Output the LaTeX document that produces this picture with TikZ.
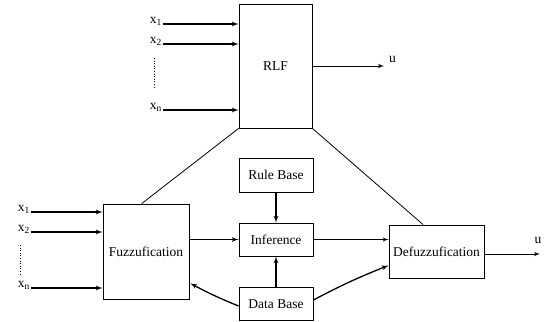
\documentclass[tikz,border=0pt]{standalone}
\usepackage{fontspec}
\setmainfont{Liberation Serif}
\usetikzlibrary{shapes,arrows,calc}
\tikzstyle{line} = [draw, -latex', line width=1.3pt]
\tikzstyle{thin} = [draw, line width=0.8pt]
\tikzstyle{block} = [draw, rectangle, text centered, line width=0.8pt, inner sep=0pt]
\tikzstyle{inlabel} = [inner sep=1pt, anchor=east]

\begin{document}
\begin{tikzpicture}[x=1pt, y=-1pt, node distance=64.5pt, font=\fontsize{13.5}{15}\selectfont]
        \useasboundingbox (0,0) rectangle (545,321);
        % upper part
        \node[block, minimum width=73pt, minimum height=124pt] (rlf) at (275.5,66) {RLF};
        \node[inlabel] (rx1) at (163,21) {x\textsubscript{1}};
        \node[inlabel] (rx2) at (163,41) {x\textsubscript{2}};
        \node[inlabel] (rxn) at (163,107) {x\textsubscript{n}};
        \path[line] (rx1.east |- 0,24) -- (rx1.east |- 0,24 -| rlf.west);
        \path[line] (rx2.east |- 0,44) -- (rx2.east |- 0,44 -| rlf.west);
        \path[line] (rxn.east |- 0,110) -- (rxn.east |- 0,110 -| rlf.west);
        \draw[dotted, line width=0.6pt] (154,58) -- (154,88);
        \coordinate (rout) at (384,66);
        \path[line, line width=1pt] (rlf.east) -- (rout);
        \node[anchor=south west, inner sep=1pt] (ru) at ($(rout)+(4,-2)$) {u};
        % lower part
        \node[block, minimum width=86pt, minimum height=95pt] (fuzz) at (146,251.5) {Fuzzufication};
        \node[block, minimum width=74pt, minimum height=34pt] (rule) at (276,175) {Rule Base};
        \node[block, minimum width=74pt, minimum height=33pt, below of=rule] (inf) {Inference};
        \node[block, minimum width=74pt, minimum height=33pt, below of=inf] (db) {Data Base};
        \node[block, minimum width=95pt, minimum height=53pt] (defuzz) at (436.5,251.5) {Defuzzufication};
        \node[inlabel] (fx1) at (31,209) {x\textsubscript{1}};
        \node[inlabel] (fx2) at (31,229) {x\textsubscript{2}};
        \node[inlabel] (fxn) at (31,285) {x\textsubscript{n}};
        \path[line] (fx1.east |- 0,212) -- (fx1.east |- 0,212 -| fuzz.west);
        \path[line] (fx2.east |- 0,232) -- (fx2.east |- 0,232 -| fuzz.west);
        \path[line] (fxn.east |- 0,288) -- (fxn.east |- 0,288 -| fuzz.west);
        \draw[dotted, line width=0.6pt] (20,245) -- (20,275);
        \path[line] (fuzz.east |- inf.west) -- (inf.west);
        \path[line] (rule.south) -- (inf.north);
        \path[line] (db.north) -- (inf.south);
        \path[line, line width=1pt] (inf.east) -- (inf.east -| defuzz.west);
        \path[line] ($(db.east)+(0,-4)$) to[bend left=3] ($(defuzz.south west)+(0,-13)$);
        \path[line] ($(db.west)+(0,2)$) to[bend left=3] ($(fuzz.south east)+(1,-16)$);
        \coordinate (dout) at (540,254);
        \path[line, line width=1pt] (defuzz.east |- dout) -- (dout);
        \node[anchor=south, inner sep=1pt] (du) at ($(dout)+(-2,-9)$) {u};
        % links to RLF
        \path[thin] (rlf.south west) -- ($(fuzz.north west)!0.45!(fuzz.north east)$);
        \path[thin] (rlf.south east) -- ($(defuzz.north west)!0.36!(defuzz.north east)$);
    \end{tikzpicture}
\end{document}
